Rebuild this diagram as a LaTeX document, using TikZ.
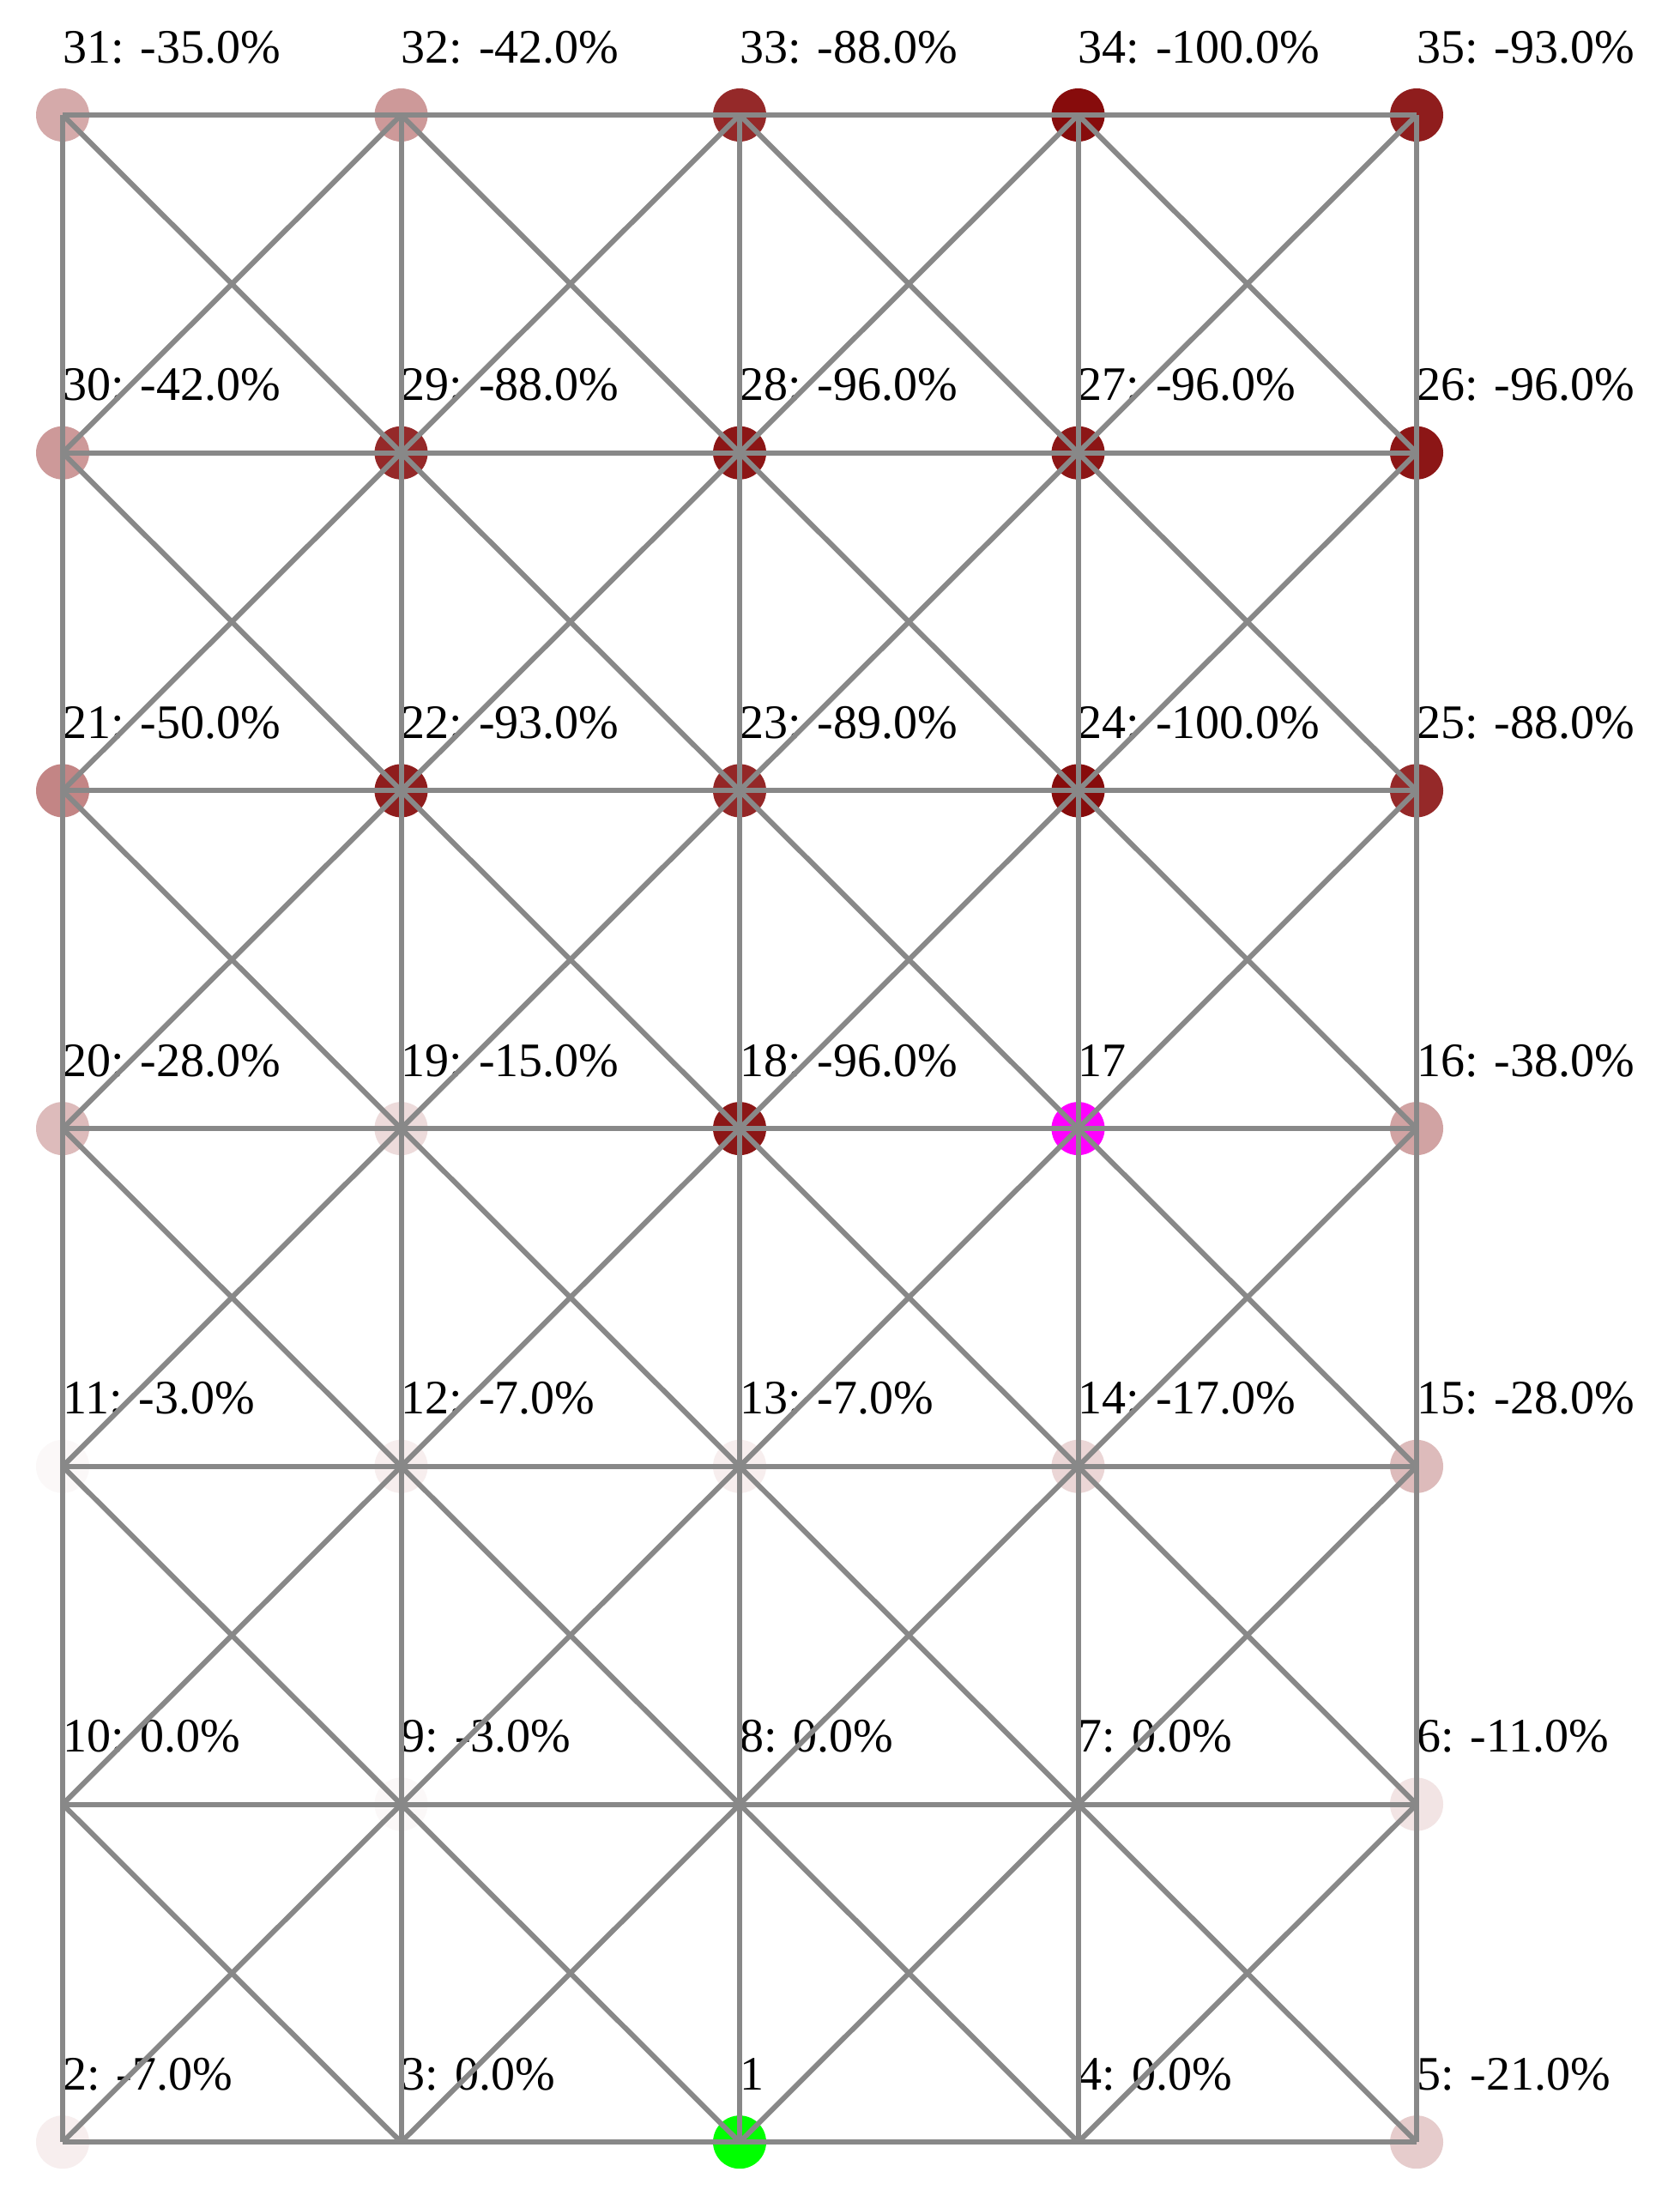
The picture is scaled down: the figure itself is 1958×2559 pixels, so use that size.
\documentclass[tikz,border=0pt]{standalone}
\usepackage{fontspec}
\setmainfont{Liberation Serif}
\definecolor{hot}{RGB}{135,12,12}
\definecolor{edgegray}{RGB}{136,136,136}
\begin{document}
\begin{tikzpicture}[x=0.5pt,y=-0.5pt,
  vtx/.style={circle,minimum size=31pt,inner sep=0pt,draw=none},
  edge/.style={draw=edgegray,line width=3pt},
  lab/.style={anchor=base west,inner sep=0pt,font=\fontsize{28}{33}\selectfont}]
\useasboundingbox (0,0) rectangle (1958,2559);
\fill[white] (0,0) rectangle (1958,2559);
% regular nodes: name/col/row/percent/text
\foreach \n/\c/\r/\p/\t in {31/0/0/35/-35.0,32/1/0/42/-42.0,33/2/0/88/-88.0,34/3/0/100/-100.0,35/4/0/93/-93.0,
  30/0/1/42/-42.0,29/1/1/88/-88.0,28/2/1/96/-96.0,27/3/1/96/-96.0,26/4/1/96/-96.0,
  21/0/2/50/-50.0,22/1/2/93/-93.0,23/2/2/89/-89.0,24/3/2/100/-100.0,25/4/2/88/-88.0,
  20/0/3/28/-28.0,19/1/3/15/-15.0,18/2/3/96/-96.0,16/4/3/38/-38.0,
  11/0/4/3/-3.0,12/1/4/7/-7.0,13/2/4/7/-7.0,14/3/4/17/-17.0,15/4/4/28/-28.0,
  10/0/5/0/0.0,9/1/5/3/-3.0,8/2/5/0/0.0,7/3/5/0/0.0,6/4/5/11/-11.0,
  2/0/6/7/-7.0,3/1/6/0/0.0,4/3/6/0/0.0,5/4/6/21/-21.0}{
  \node[vtx,fill=hot!\p!white,alias=g\c\r] (n\n) at ({73+394.5*\c},{134+393.7*\r}) {};
  \node[lab] (l\n) at ({73+394.5*\c},{134+393.7*\r-61}) {\n: \t\%};
}
\node[vtx,fill={rgb,255:red,255;green,0;blue,255},alias=g33] (n17) at ({73+394.5*3},{134+393.7*3}) {};
\node[lab] (l17) at ({73+394.5*3},{134+393.7*3-61}) {17};
\node[vtx,fill={rgb,255:red,0;green,255;blue,0},alias=g26] (n1) at ({73+394.5*2},{134+393.7*6}) {};
\node[lab] (l1) at ({73+394.5*2},{134+393.7*6-61}) {1};
% horizontal edges
\foreach \r in {0,...,6}{
  \foreach \c [count=\d] in {0,...,3}{
    \draw[edge] (g\c\r.center) -- (g\d\r.center);
  }
}
% vertical edges
\foreach \c in {0,...,4}{
  \foreach \r [count=\s] in {0,...,5}{
    \draw[edge] (g\c\r.center) -- (g\c\s.center);
  }
}
% diagonal edges
\foreach \c [count=\d] in {0,...,3}{
  \foreach \r [count=\s] in {0,...,5}{
    \draw[edge] (g\c\r.center) -- (g\d\s.center);
    \draw[edge] (g\d\r.center) -- (g\c\s.center);
  }
}
\end{tikzpicture}
\end{document}
